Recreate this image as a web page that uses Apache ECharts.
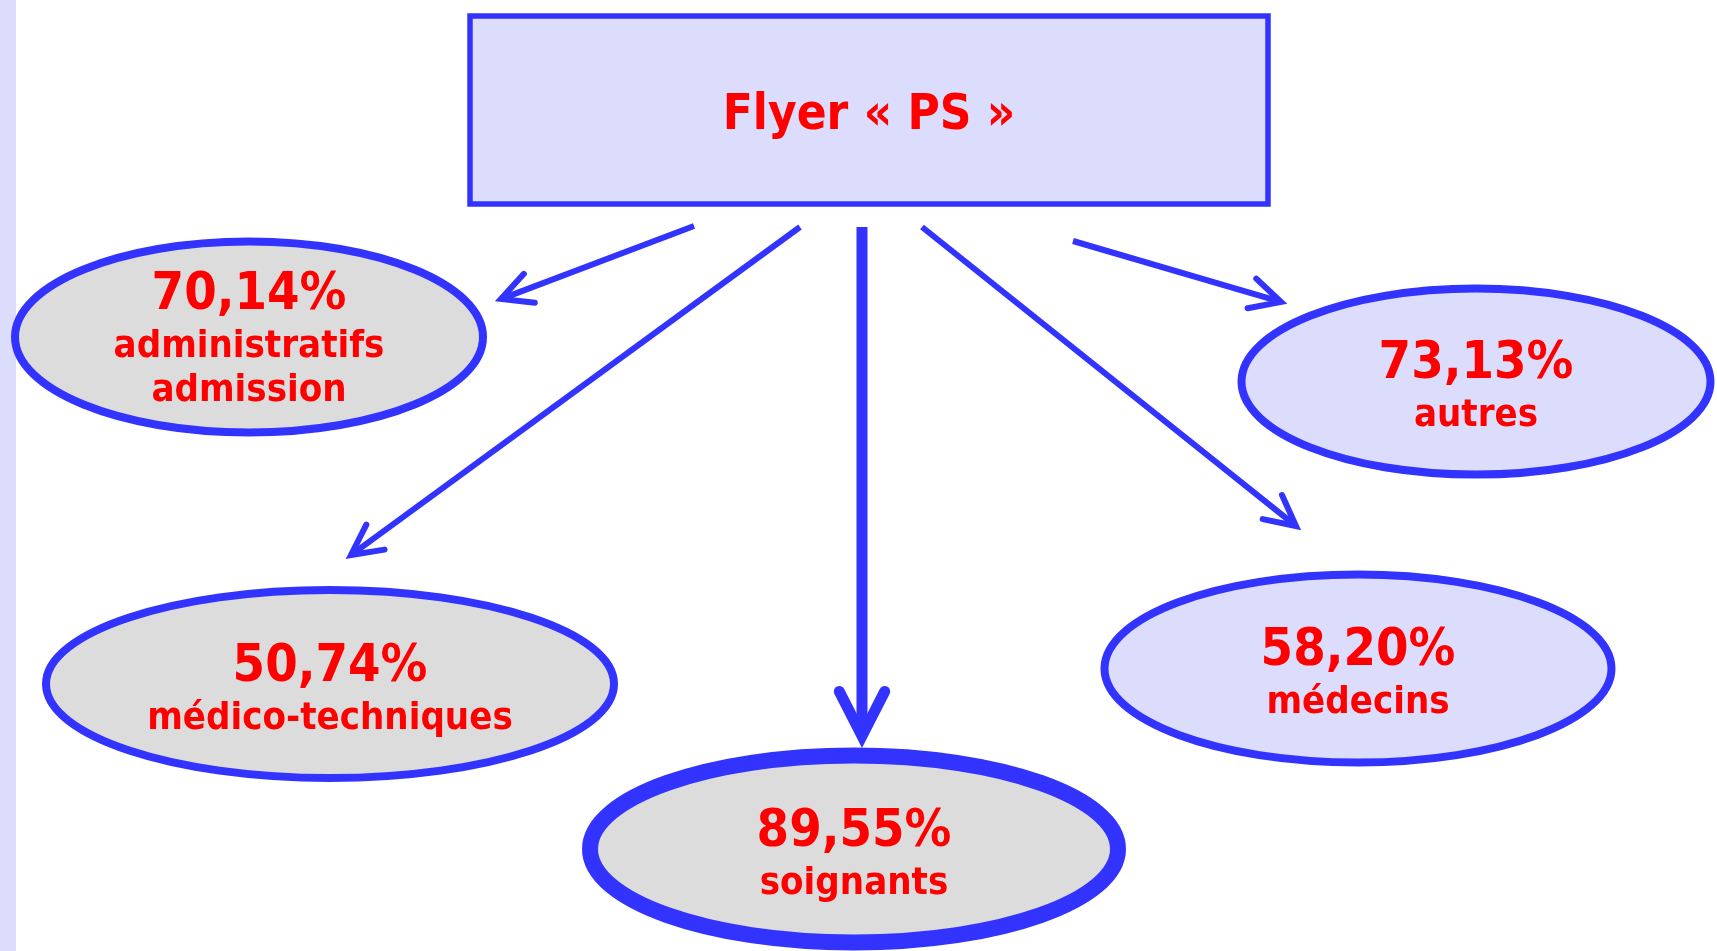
<!DOCTYPE html>
<html><head><meta charset="utf-8">
<script src="https://cdn.jsdelivr.net/npm/echarts@6/dist/echarts.min.js"></script>
<style>html,body{margin:0;padding:0;background:#fff}#c{width:1717px;height:951px}</style>
</head><body><div id="c"></div>
<script>
// ---- data ----
const titleText = 'Flyer « PS »';
const categories = ['administratifs\nadmission', 'médico-techniques', 'soignants', 'médecins', 'autres'];
const values = [70.14, 50.74, 89.55, 58.20, 73.13];

// ---- layout (diagram space = 1717 x 951) ----
const nodeCenterX = [249, 330, 854, 1358, 1476];
const nodeCenterY = [337, 684, 849, 668.5, 381.6];
const nodeWidth = [468, 568, 528, 507, 469];
const nodeHeight = [191, 188, 187, 188, 186];
const nodeFill = ['#dcdcdc', '#dcdcdc', '#dcdcdc', '#dcdcfc', '#dcdcfc'];
const nodeStroke = [8, 8, 16, 8, 8];
const arrowFrom = [[694, 226], [800, 227], [862, 227], [922, 227], [1073, 241]];
const arrowTo = [[501, 299], [351, 555], [862, 736], [1296, 526], [1281, 302]];
const arrowWidth = [6, 6, 11, 6, 6];
const arrowHead = [34, 34, 50, 34, 34];
const boxRect = [470, 16, 798, 188];

const FONT = '"DejaVu Sans Condensed", "DejaVu Sans", Verdana, sans-serif';
const BLUE = '#3333ff';
const RED = '#ff0000';

function fmt(v) { return v.toFixed(2).replace('.', ',') + '%'; }

const chart = echarts.init(document.getElementById('c'));

function renderNode(params, api) {
  const i = api.value(0);
  const c = api.coord([nodeCenterX[i], nodeCenterY[i]]);
  const s = api.size([nodeWidth[i], nodeHeight[i]]);
  const rx = Math.abs(s[0]) / 2, ry = Math.abs(s[1]) / 2;
  const lines = categories[i].split('\n');
  const txt = '{v|' + fmt(api.value(1)) + '}\n' + lines.map(l => '{l|' + l + '}').join('\n');
  const dy = lines.length === 1 ? 5 : 2;
  return {
    type: 'group',
    children: [
      { type: 'ellipse', shape: { cx: c[0], cy: c[1], rx: rx, ry: ry },
        style: { fill: nodeFill[i], stroke: BLUE, lineWidth: nodeStroke[i] } },
      { type: 'text', style: {
          x: c[0], y: c[1] + dy, text: txt, align: 'center', verticalAlign: 'middle',
          fill: RED, fontFamily: FONT, fontWeight: 'bold',
          rich: {
            v: { fontSize: 52, lineHeight: 60, fontWeight: 'bold', fill: RED, fontFamily: FONT, align: 'center' },
            l: { fontSize: 38, lineHeight: 44, fontWeight: 'bold', fill: RED, fontFamily: FONT, align: 'center' }
          }
      } }
    ]
  };
}

function renderArrow(params, api) {
  const i = api.value(0);
  const p1 = api.coord(arrowFrom[i]), p2 = api.coord(arrowTo[i]);
  const ang = Math.atan2(p2[1] - p1[1], p2[0] - p1[0]);
  const L = arrowHead[i], a = 27 * Math.PI / 180;
  const w = arrowWidth[i];
  const back = w * 0.9;
  const h1 = [p2[0] - L * Math.cos(ang - a), p2[1] - L * Math.sin(ang - a)];
  const h2 = [p2[0] - L * Math.cos(ang + a), p2[1] - L * Math.sin(ang + a)];
  return {
    type: 'group',
    children: [
      { type: 'line', shape: { x1: p1[0], y1: p1[1], x2: p2[0] - back * Math.cos(ang), y2: p2[1] - back * Math.sin(ang) },
        style: { stroke: BLUE, lineWidth: w, lineCap: 'butt' } },
      { type: 'polyline', shape: { points: [h1, p2, h2] },
        style: { stroke: BLUE, lineWidth: w, fill: null, lineCap: 'round', lineJoin: 'miter', miterLimit: 10 } }
    ]
  };
}

function renderBox(params, api) {
  const p = api.coord([boxRect[0], boxRect[1]]);
  const s = api.size([boxRect[2], boxRect[3]]);
  const w = Math.abs(s[0]), h = Math.abs(s[1]);
  return {
    type: 'group',
    children: [
      { type: 'rect', shape: { x: p[0], y: p[1], width: w, height: h },
        style: { fill: '#dcdcfc', stroke: BLUE, lineWidth: 5.5 } },
      { type: 'text', style: { x: p[0] + w / 2, y: p[1] + h / 2 + 6, text: titleText, align: 'center', verticalAlign: 'middle',
          fill: RED, fontFamily: FONT, fontWeight: 'bold', fontSize: 49 } }
    ]
  };
}

chart.setOption({
  animation: false,
  backgroundColor: '#ffffff',
  grid: { left: 0, right: 0, top: 0, bottom: 0 },
  xAxis: { type: 'value', min: 0, max: 1717, show: false },
  yAxis: { type: 'value', min: 0, max: 951, inverse: true, show: false },
  graphic: [
    { type: 'rect', left: 0, top: 0, shape: { width: 16, height: 951 }, style: { fill: '#dcdcfc' }, silent: true }
  ],
  series: [
    { type: 'custom', name: 'title', renderItem: renderBox, data: [[0]], clip: false, silent: true },
    { type: 'custom', name: 'arrows', renderItem: renderArrow, data: categories.map((c, i) => [i]), clip: false, silent: true },
    { type: 'custom', name: 'nodes', renderItem: renderNode, data: categories.map((c, i) => [i, values[i]]), clip: false, silent: true }
  ]
});
</script>
</body></html>
